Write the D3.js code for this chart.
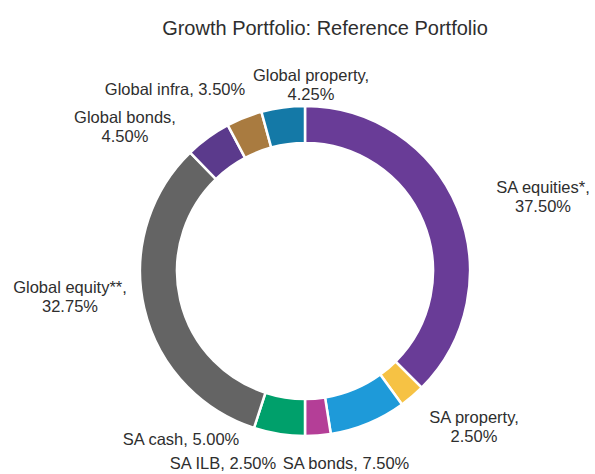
<!DOCTYPE html>
<html>
<head>
<meta charset="utf-8">
<script src="https://cdn.jsdelivr.net/npm/d3@7"></script>
<style>
  body { margin: 0; background: #fff; }
  svg { display: block; font-family: "Liberation Sans", Arial, sans-serif; }
</style>
</head>
<body>
<svg id="chart" width="595" height="474"></svg>
<script>
// data, clockwise from 12 o'clock
const categories = ["SA equities*", "SA property", "SA bonds", "SA ILB", "SA cash",
  "Global equity**", "Global bonds", "Global infra", "Global property"];
const weights = [37.5, 2.5, 7.5, 2.5, 5.0, 32.75, 4.5, 3.5, 4.25];
const colors = ["#693c97", "#f6c244", "#1e9ad9", "#b43e97", "#00a06b",
  "#646464", "#5b3a8c", "#a97b40", "#1479a7"];

// label placement (layout only): anchor centre + whether split over two lines
const labelLayout = [
  { x: 543, y: 187, wrap: true },
  { x: 474, y: 417, wrap: true },
  { x: 346, y: 463, wrap: false },
  { x: 223, y: 463, wrap: false },
  { x: 181, y: 439, wrap: false },
  { x: 70, y: 287, wrap: true },
  { x: 125, y: 117, wrap: true },
  { x: 175, y: 89, wrap: false },
  { x: 311, y: 75, wrap: true }
];

const cx = 305, cy = 271;
const outerR = 165, innerR = 128;

const svg = d3.select("#chart");

svg.append("text")
  .attr("x", 325)
  .attr("y", 28)
  .attr("dy", "0.35em")
  .attr("text-anchor", "middle")
  .attr("font-size", 20)
  .attr("fill", "#2e2e2e")
  .text("Growth Portfolio: Reference Portfolio");

const data = categories.map((c, i) => ({ name: c, value: weights[i], color: colors[i] }));

const pie = d3.pie()
  .sort(null)
  .value((d) => d.value);

const arc = d3.arc()
  .innerRadius(innerR)
  .outerRadius(outerR);

const g = svg.append("g").attr("transform", `translate(${cx},${cy})`);

g.selectAll("path")
  .data(pie(data))
  .join("path")
  .attr("d", arc)
  .attr("fill", (d) => d.data.color)
  .attr("stroke", "#fff")
  .attr("stroke-width", 2.5);

// labels
const fmt = d3.format(".2f");
const labels = svg.append("g")
  .attr("font-size", 16.5)
  .attr("fill", "#2e2e2e")
  .attr("text-anchor", "middle");

data.forEach((d, i) => {
  const pos = labelLayout[i];
  const t = labels.append("text").attr("x", pos.x).attr("y", pos.y).attr("dy", "0.35em");
  const pct = `${fmt(d.value)}%`;
  if (pos.wrap) {
    t.append("tspan").attr("x", pos.x).text(`${d.name},`);
    t.append("tspan").attr("x", pos.x).attr("dy", 19.5).text(pct);
  } else {
    t.text(`${d.name}, ${pct}`);
  }
});
</script>
</body>
</html>
